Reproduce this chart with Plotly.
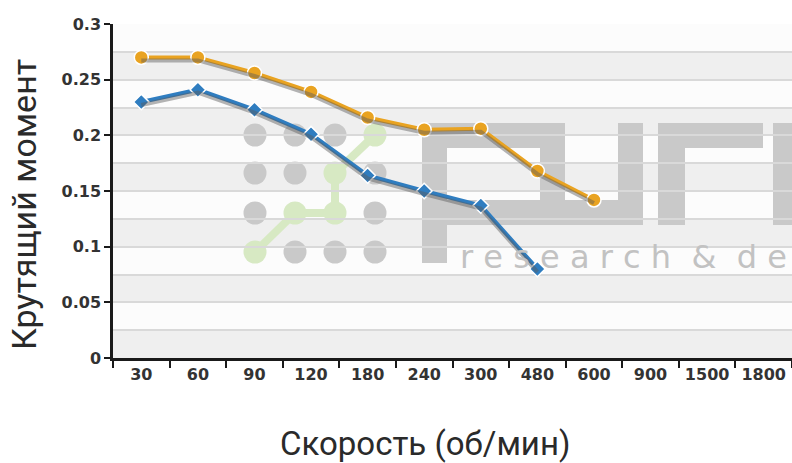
import plotly.graph_objects as go

# ---------------- data ----------------
speeds = ["30", "60", "90", "120", "180", "240", "300", "480", "600", "900", "1500", "1800"]
torque_orange = [0.270, 0.270, 0.256, 0.239, 0.216, 0.205, 0.206, 0.168, 0.142, None, None, None]
torque_blue = [0.230, 0.241, 0.223, 0.201, 0.164, 0.150, 0.137, 0.080, None, None, None, None]
y_title = "Крутящий момент"
x_title = "Скорость (об/мин)"
watermark_text = "r e s e a r c h  &  d e"

ORANGE = "#e9a321"
BLUE = "#2f7dc0"
W, H = 792, 463
L, R, T, B = 113, 0, 24, 105
PW, PH = W - L - R, H - T - B


def px(x):
    return (x - L) / PW


def py(y):
    return (H - B - y) / PH


fig = go.Figure()

# shadow traces (same data, on a slightly shifted overlay axis)
shift = 3 * 0.3 / PH
for vals in (torque_orange, torque_blue):
    fig.add_trace(go.Scatter(x=speeds, y=vals, mode="lines", yaxis="y2",
                             line=dict(color="rgba(90,90,90,0.45)", width=4),
                             hoverinfo="skip", showlegend=False))

fig.add_trace(go.Scatter(x=speeds, y=torque_orange, mode="lines+markers",
                         line=dict(color=ORANGE, width=4),
                         marker=dict(symbol="circle", size=14, color=ORANGE,
                                     line=dict(color="white", width=1.5)),
                         showlegend=False))
fig.add_trace(go.Scatter(x=speeds, y=torque_blue, mode="lines+markers",
                         line=dict(color=BLUE, width=4),
                         marker=dict(symbol="diamond", size=12, color=BLUE,
                                     line=dict(color="white", width=1.5)),
                         showlegend=False))

shapes = []
# alternating bands
for k in range(6):
    shapes.append(dict(type="rect", xref="paper", yref="y", x0=0, x1=1,
                       y0=0.05 * k, y1=0.05 * k + 0.025,
                       fillcolor="#efefef", line=dict(width=0), layer="below"))

# watermark blocks
GRAY = "#c9c9c9"
GREEN = "#d7e9c3"
blocks = [
    (422, 565, 123, 148), (422, 447, 148, 263), (540, 565, 148, 200),
    (447, 643, 200, 225), (618, 643, 123, 200),
    (658, 763, 123, 148), (658, 685, 148, 225), (773, 792, 123, 225),
]
for x0, x1, y0, y1 in blocks:
    shapes.append(dict(type="rect", xref="paper", yref="paper",
                       x0=px(x0), x1=px(x1), y0=py(y1), y1=py(y0),
                       fillcolor=GRAY, line=dict(width=0), layer="below"))

cols = [255, 295, 335, 375]
rows = [135, 173, 213, 252]
green_path = [(255, 252), (295, 213), (335, 213), (335, 173), (375, 135)]
for (xa, ya), (xb, yb) in zip(green_path[:-1], green_path[1:]):
    shapes.append(dict(type="line", xref="paper", yref="paper",
                       x0=px(xa), y0=py(ya), x1=px(xb), y1=py(yb),
                       line=dict(color=GREEN, width=8), layer="below"))
rad = 11.5
for cy in rows:
    for cx in cols:
        c = GREEN if (cx, cy) in green_path else GRAY
        shapes.append(dict(type="circle", xref="paper", yref="paper",
                           x0=px(cx - rad), x1=px(cx + rad),
                           y0=py(cy + rad), y1=py(cy - rad),
                           fillcolor=c, line=dict(width=0), layer="below"))

annotations = [
    dict(text=watermark_text, xref="paper", yref="paper", x=px(458), y=py(257),
         xanchor="left", yanchor="middle", showarrow=False,
         font=dict(family="DejaVu Sans", size=32, color="#c2c2c2")),
    dict(text=y_title, xref="paper", yref="paper", x=px(24), y=py(205),
         xanchor="center", yanchor="middle", textangle=-90, showarrow=False,
         font=dict(family="Roboto", size=34, color="#2a2a2a")),
    dict(text=x_title, xref="paper", yref="paper", x=px(425), y=py(443),
         xanchor="center", yanchor="middle", showarrow=False,
         font=dict(family="Roboto", size=33, color="#2a2a2a")),
]

tickfont = dict(family="DejaVu Sans", size=16, color="#333333", weight="bold")

fig.update_layout(
    width=W, height=H,
    margin=dict(l=L, r=R, t=T, b=B, autoexpand=False),
    paper_bgcolor="white", plot_bgcolor="#fcfcfc",
    shapes=shapes, annotations=annotations,
    xaxis=dict(type="category", range=[-0.5, 11.5], showgrid=False, zeroline=False,
               showline=True, linecolor="#1a1a1a", linewidth=2.5,
               ticks="outside", tickson="boundaries", ticklen=7, tickwidth=2,
               tickcolor="#1a1a1a", tickfont=tickfont, fixedrange=True,
               automargin=False),
    yaxis=dict(range=[0, 0.3], dtick=0.05, showgrid=True, gridcolor="#d9d9d9",
               gridwidth=1.5, zeroline=False, showline=True, linecolor="#1a1a1a",
               linewidth=2.5, ticks="outside", ticklen=6, tickwidth=2,
               tickcolor="#1a1a1a", tickfont=tickfont, automargin=False,
               minor=dict(dtick=0.025, showgrid=True, gridcolor="#d9d9d9",
                          gridwidth=1.5, ticks="")),
    yaxis2=dict(range=[shift, 0.3 + shift], overlaying="y", visible=False),
)

fig.write_html("out.html", config={"displayModeBar": False})

with open("out.html", encoding="utf-8") as f:
    html = f.read()
html = html.replace("<body>", '<body style="margin:0;padding:0;overflow:hidden">', 1)
with open("out.html", "w", encoding="utf-8") as f:
    f.write(html)
